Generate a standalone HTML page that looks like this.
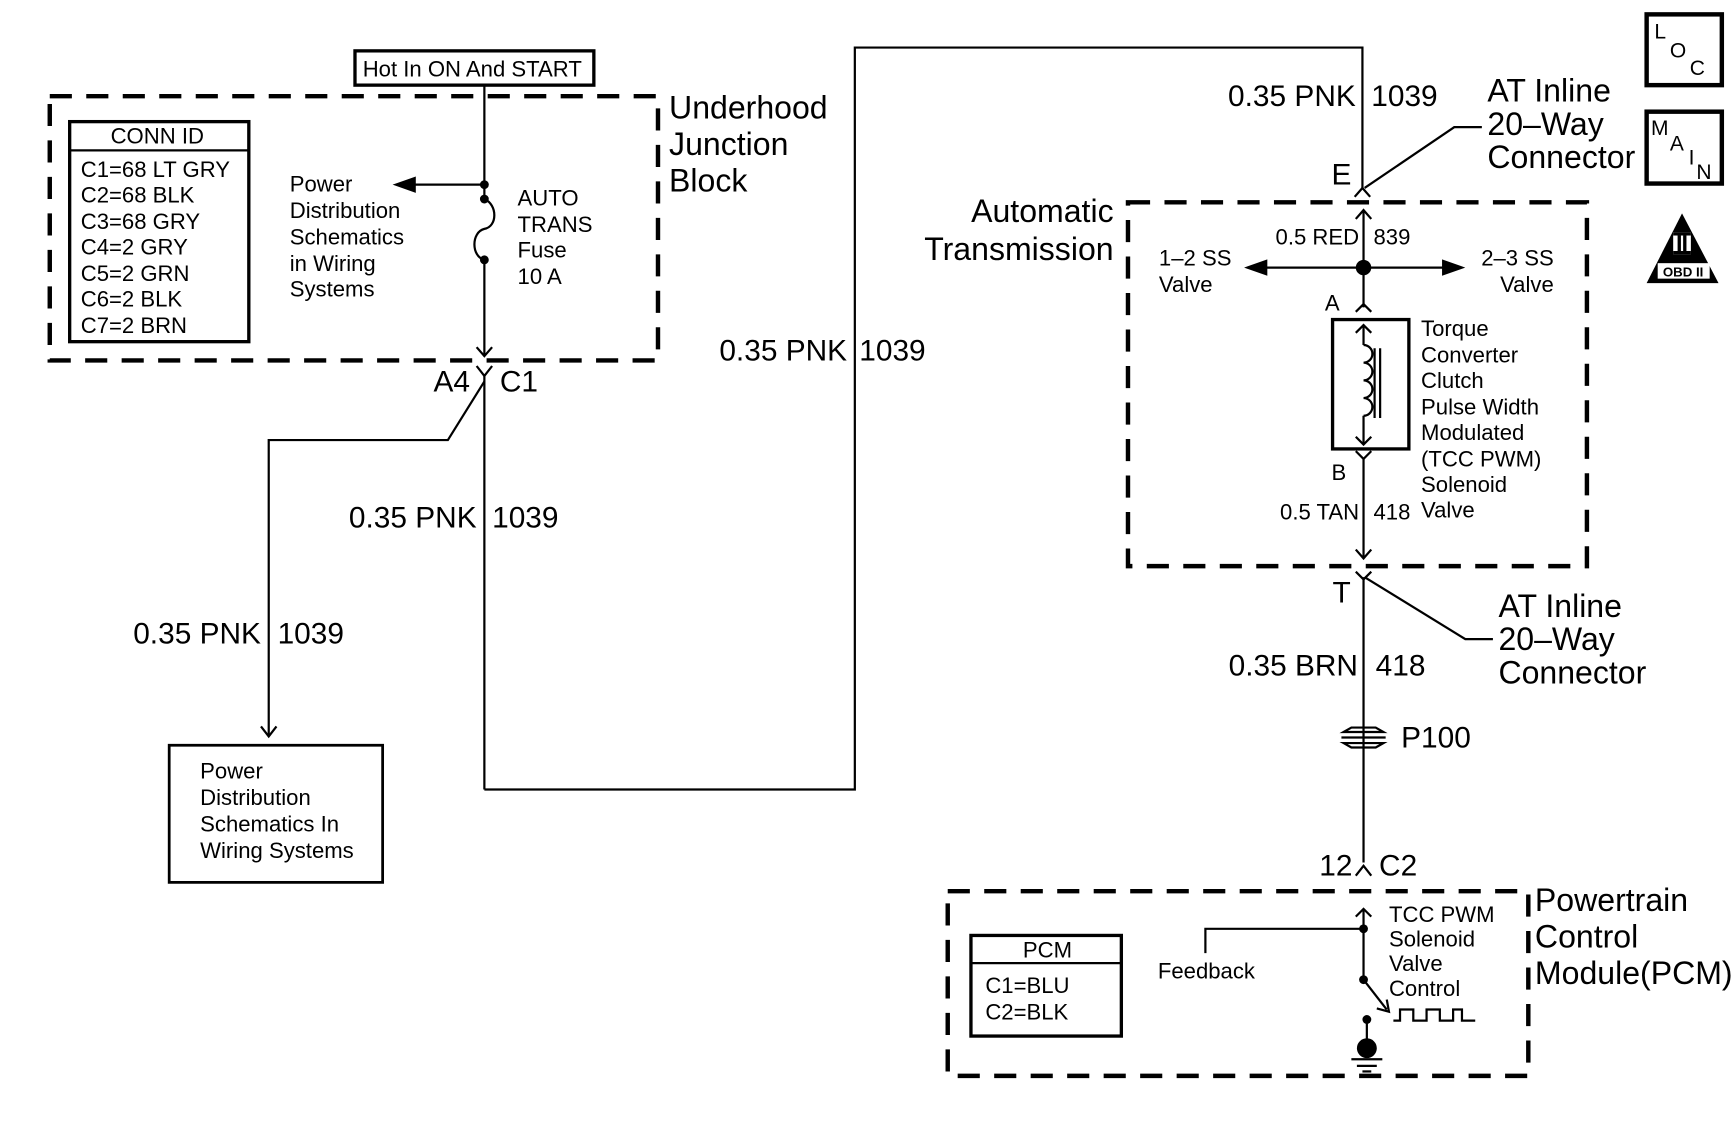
<!DOCTYPE html>
<html><head><meta charset="utf-8"><style>
html,body{margin:0;padding:0;background:#fff;}
svg{display:block;}
text{font-family:"Liberation Sans",sans-serif;fill:#000;}
.s{font-size:20px;}
.l{font-size:29px;}
.m{font-size:27px;}
</style></head><body>
<svg width="1734" height="1140" viewBox="0 0 1568 1031" preserveAspectRatio="none" xmlns="http://www.w3.org/2000/svg">
<g fill="none" stroke="#000">
<g stroke-width="4" stroke-dasharray="20,13">
<rect x="45" y="87" width="550" height="239"/>
<rect x="1020" y="183" width="415" height="329"/>
<rect x="857" y="806" width="525" height="167"/>
</g>
<g stroke-width="2">
<rect x="321" y="46" width="216" height="31" stroke-width="3"/>
<rect x="63" y="110" width="162" height="199" stroke-width="3"/>
<line x1="63" y1="136" x2="225" y2="136"/>
<rect x="153" y="674" width="193" height="124" stroke-width="2.5"/>
<line x1="438" y1="77" x2="438" y2="180"/>
<path d="M438,180 C450,185 450,205 438,207 C426,210 426,232 438,235"/>
<line x1="438" y1="235" x2="438" y2="322"/>
<path d="M431,314 L438,322 L445,314"/>
<line x1="438" y1="167" x2="370" y2="167"/>
<path d="M358,167 L375,161 L375,173 z" fill="#000"/>
<path d="M431,331 L438,340 L445,331"/>
<line x1="438" y1="340" x2="438" y2="714"/>
<polyline points="438,345 405,398 243,398 243,665"/>
<path d="M236,657 L243,666 L250,657"/>
<polyline points="438,714 773,714 773,43 1232,43 1232,170"/>
<path d="M1225,178 L1232,170 L1239,178"/>
<polyline points="1234,170 1315,115 1340,115"/>
<line x1="1233" y1="190" x2="1233" y2="278"/>
<path d="M1226,198 L1233,190 L1240,198"/>
<line x1="1233" y1="242" x2="1140" y2="242"/>
<path d="M1128,242 L1145,236 L1145,248 z" fill="#000"/>
<line x1="1233" y1="242" x2="1310" y2="242"/>
<path d="M1322,242 L1305,236 L1305,248 z" fill="#000"/>
<path d="M1226,282 L1233,275 L1240,282"/>
<rect x="1205" y="289" width="69" height="117" stroke-width="3"/>
<line x1="1233" y1="294" x2="1233" y2="312"/>
<path d="M1226,301 L1233,294 L1240,301"/>
<path d="M1233,312 a8,8 0 0 1 0,16 a8,8 0 0 1 0,16 a8,8 0 0 1 0,16 a8,8 0 0 1 0,16"/>
<line x1="1233" y1="376" x2="1233" y2="402"/>
<path d="M1226,395 L1233,402 L1240,395"/>
<line x1="1243" y1="315" x2="1243" y2="378"/>
<line x1="1248" y1="315" x2="1248" y2="378"/>
<path d="M1226,408 L1233,415 L1240,408"/>
<line x1="1233" y1="415" x2="1233" y2="505"/>
<path d="M1226,497 L1233,505 L1240,497"/>
<path d="M1226,517 L1233,524 L1240,517"/>
<polyline points="1234,522 1325,578 1350,578"/>
<line x1="1233" y1="522" x2="1233" y2="780"/>
<path d="M1215,662 L1222,658 L1244,658 L1251,662 Z"/>
<path d="M1215,672 L1222,676 L1244,676 L1251,672 Z"/>
<line x1="1213" y1="667" x2="1253" y2="667"/>
<path d="M1226,792 L1233,783 L1240,792"/>
<rect x="878" y="846" width="136" height="91" stroke-width="3"/>
<line x1="878" y1="871" x2="1014" y2="871"/>
<line x1="1233" y1="822" x2="1233" y2="886"/>
<path d="M1226,829 L1233,822 L1240,829"/>
<polyline points="1233,840 1090,840 1090,862"/>
<line x1="1233" y1="886" x2="1254" y2="913"/>
<path d="M1245,912 L1256,915 L1254,904"/>
<polyline points="1260,923 1266,923 1266,913 1278,913 1278,923 1290,923 1290,913 1302,913 1302,923 1314,923 1314,913 1322,913 1322,923 1334,923"/>
<line x1="1236" y1="922" x2="1236" y2="945"/>
<line x1="1222" y1="958" x2="1250" y2="958"/>
<line x1="1227" y1="964" x2="1245" y2="964"/>
<line x1="1232" y1="969" x2="1240" y2="969"/>
<rect x="1489" y="13" width="68" height="64" stroke-width="4"/>
<rect x="1489" y="101" width="68" height="65" stroke-width="4"/>
</g>
</g>
<g fill="#000">
<circle cx="438" cy="167" r="4"/><circle cx="438" cy="180" r="4"/><circle cx="438" cy="235" r="4"/>
<circle cx="1233" cy="242" r="7"/>
<circle cx="1233" cy="840" r="4"/><circle cx="1233" cy="886" r="4"/>
<circle cx="1236" cy="922" r="4"/><circle cx="1236" cy="948" r="9"/>
<path d="M1521,193 L1554,256 L1489,256 Z"/>
</g>
<rect x="1499" y="238" width="47" height="14" fill="#fff"/>
<rect x="1513" y="210" width="16" height="20" fill="#fff"/>
<rect x="1517" y="213" width="3" height="14" fill="#000"/><rect x="1522" y="213" width="3" height="14" fill="#000"/>
<rect x="1513" y="210" width="16" height="3" fill="#000"/><rect x="1513" y="227" width="16" height="3" fill="#000"/>
<text x="1522" y="250" font-size="12" text-anchor="middle" font-weight="bold">OBD II</text>
<text x="1496" y="35" font-size="19">L</text><text x="1510" y="52" font-size="19">O</text><text x="1528" y="68" font-size="19">C</text>
<text x="1493" y="122" font-size="19">M</text><text x="1510" y="136" font-size="19">A</text><text x="1527" y="149" font-size="19">I</text><text x="1534" y="162" font-size="19">N</text>

<text class="s" x="328" y="69">Hot In ON And START</text>
<text class="s" x="100" y="130">CONN ID</text>
<text class="s" x="73" y="160">C1=68 LT GRY</text>
<text class="s" x="73" y="183">C2=68 BLK</text>
<text class="s" x="73" y="207">C3=68 GRY</text>
<text class="s" x="73" y="230">C4=2 GRY</text>
<text class="s" x="73" y="254">C5=2 GRN</text>
<text class="s" x="73" y="277">C6=2 BLK</text>
<text class="s" x="73" y="301">C7=2 BRN</text>
<text class="s" x="262" y="173">Power</text>
<text class="s" x="262" y="197">Distribution</text>
<text class="s" x="262" y="221">Schematics</text>
<text class="s" x="262" y="245">in Wiring</text>
<text class="s" x="262" y="268">Systems</text>
<text class="s" x="468" y="186">AUTO</text>
<text class="s" x="468" y="210">TRANS</text>
<text class="s" x="468" y="233">Fuse</text>
<text class="s" x="468" y="257">10 A</text>
<text class="l" x="605" y="107">Underhood</text>
<text class="l" x="605" y="140">Junction</text>
<text class="l" x="605" y="173">Block</text>
<text class="m" x="392" y="354">A4</text>
<text class="m" x="452" y="354">C1</text>
<text class="m" x="431" y="477" text-anchor="end">0.35 PNK</text><text class="m" x="445" y="477">1039</text>
<text class="m" x="236" y="582" text-anchor="end">0.35 PNK</text><text class="m" x="251" y="582">1039</text>
<text class="m" x="766" y="326" text-anchor="end">0.35 PNK</text><text class="m" x="777" y="326">1039</text>
<text class="m" x="1226" y="96" text-anchor="end">0.35 PNK</text><text class="m" x="1240" y="96">1039</text>
<text class="s" x="181" y="704">Power</text>
<text class="s" x="181" y="728">Distribution</text>
<text class="s" x="181" y="752">Schematics In</text>
<text class="s" x="181" y="776">Wiring Systems</text>
<text class="m" x="1204" y="167">E</text>
<text class="l" x="1345" y="92">AT Inline</text>
<text class="l" x="1345" y="122">20–Way</text>
<text class="l" x="1345" y="152">Connector</text>
<text class="l" x="1007" y="201" text-anchor="end">Automatic</text>
<text class="l" x="1007" y="235" text-anchor="end">Transmission</text>
<text class="s" x="1229" y="221" text-anchor="end">0.5 RED</text><text class="s" x="1242" y="221">839</text>
<text class="s" x="1048" y="240">1–2 SS</text><text class="s" x="1048" y="264">Valve</text>
<text class="s" x="1405" y="240" text-anchor="end">2–3 SS</text><text class="s" x="1405" y="264" text-anchor="end">Valve</text>
<text class="s" x="1198" y="281">A</text>
<text class="s" x="1204" y="434">B</text>
<text class="s" x="1229" y="470" text-anchor="end">0.5 TAN</text><text class="s" x="1242" y="470">418</text>
<text class="s" x="1285" y="304">Torque</text>
<text class="s" x="1285" y="328">Converter</text>
<text class="s" x="1285" y="351">Clutch</text>
<text class="s" x="1285" y="375">Pulse Width</text>
<text class="s" x="1285" y="398">Modulated</text>
<text class="s" x="1285" y="422">(TCC PWM)</text>
<text class="s" x="1285" y="445">Solenoid</text>
<text class="s" x="1285" y="468">Valve</text>
<text class="m" x="1205" y="545">T</text>
<text class="l" x="1355" y="558">AT Inline</text>
<text class="l" x="1355" y="588">20–Way</text>
<text class="l" x="1355" y="618">Connector</text>
<text class="m" x="1228" y="611" text-anchor="end">0.35 BRN</text><text class="m" x="1244" y="611">418</text>
<text class="m" x="1267" y="676">P100</text>
<text class="m" x="1223" y="792" text-anchor="end">12</text><text class="m" x="1247" y="792">C2</text>
<text class="l" x="1388" y="824">Powertrain</text>
<text class="l" x="1388" y="857">Control</text>
<text class="l" x="1388" y="890">Module(PCM)</text>
<text class="s" x="925" y="866">PCM</text>
<text class="s" x="891" y="898">C1=BLU</text>
<text class="s" x="891" y="922">C2=BLK</text>
<text class="s" x="1047" y="885">Feedback</text>
<text class="s" x="1256" y="834">TCC PWM</text>
<text class="s" x="1256" y="856">Solenoid</text>
<text class="s" x="1256" y="878">Valve</text>
<text class="s" x="1256" y="901">Control</text>
</svg>
</body></html>
